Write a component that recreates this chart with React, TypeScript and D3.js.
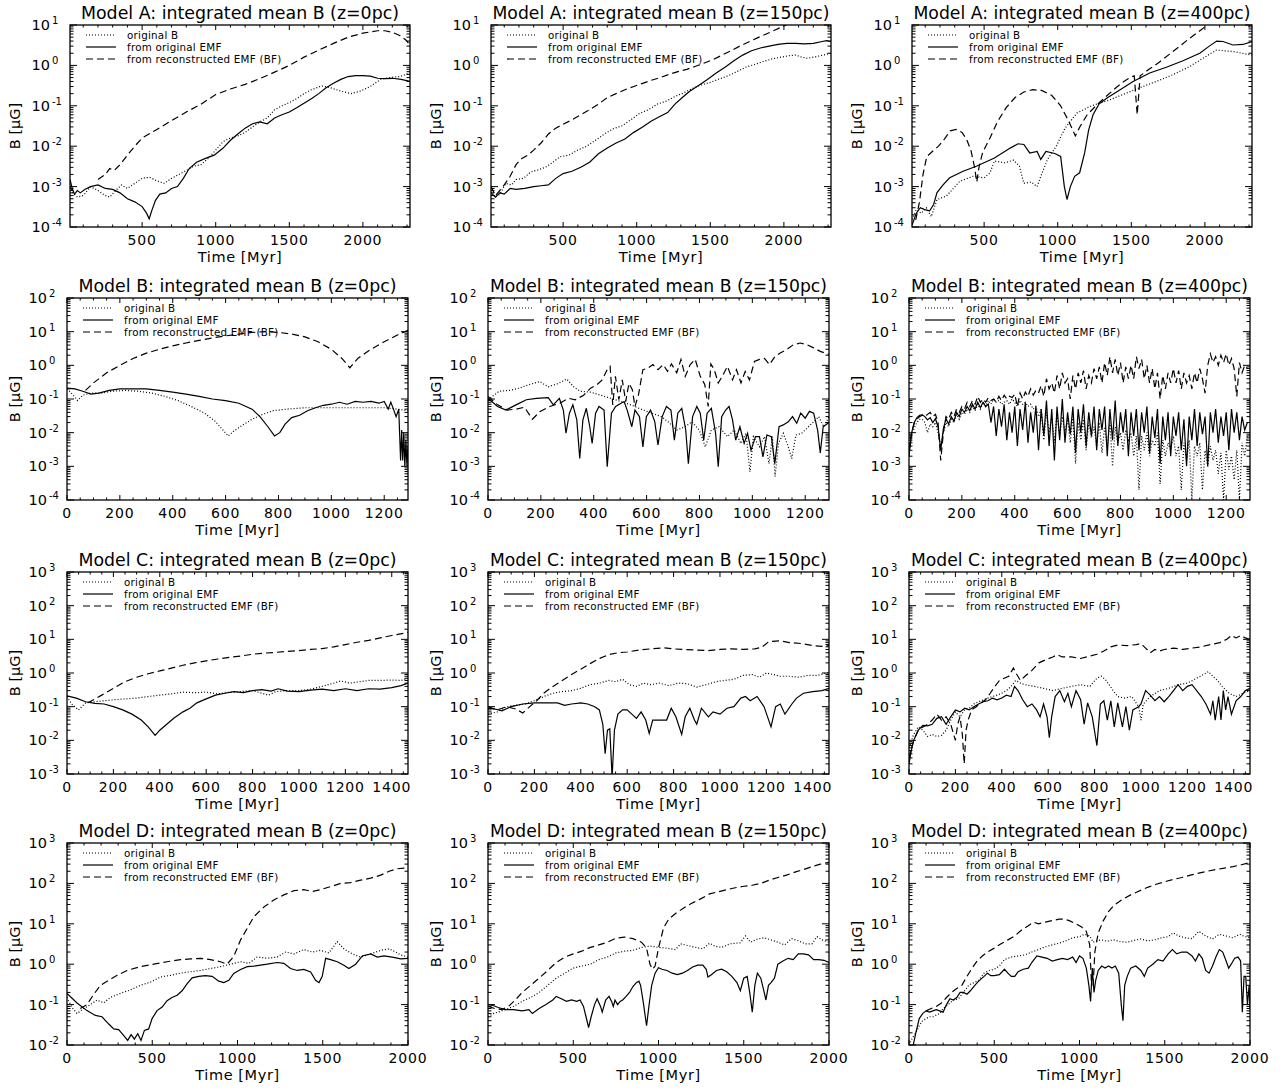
import * as d3 from 'd3';

type Pt = [number, number];

// ---------- Model A ----------
const a0Orig: Pt[] = [[10,1e-3],[30,7e-4],[60,5.5e-4],[100,6e-4],[150,1e-3],[200,8e-4],[250,6e-4],[280,5.5e-4],[320,8e-4],[360,1.1e-3],[400,9e-4],[450,1.2e-3],[500,1.6e-3],[550,1.7e-3],[600,1.4e-3],[650,1.2e-3],[700,1.6e-3],[750,2e-3],[800,2.5e-3],[850,3.2e-3],[900,3.5e-3],[950,5e-3],[1000,8e-3],[1050,1.3e-2],[1100,1.6e-2],[1150,1.8e-2],[1200,2.2e-2],[1250,3e-2],[1300,4e-2],[1350,5e-2],[1400,8e-2],[1450,1e-1],[1500,1.2e-1],[1550,1.5e-1],[1600,2e-1],[1650,2.5e-1],[1720,3.1e-1],[1780,2.8e-1],[1850,2.3e-1],[1920,2e-1],[1980,2.3e-1],[2050,3e-1],[2120,4.5e-1],[2180,5e-1],[2250,5.3e-1],[2320,6.5e-1]];
const a0Emf: Pt[] = [[10,1.5e-3],[25,9e-4],[40,6.5e-4],[60,8e-4],[80,7e-4],[110,8.5e-4],[150,1e-3],[200,1.1e-3],[250,9e-4],[300,8.5e-4],[350,7e-4],[400,5e-4],[450,4.2e-4],[500,3.2e-4],[530,2.2e-4],[548,1.6e-4],[565,2.5e-4],[590,4.5e-4],[620,6.5e-4],[660,7e-4],[700,9e-4],[740,1e-3],[780,1.6e-3],[820,2.8e-3],[870,4e-3],[930,5e-3],[990,6e-3],[1050,9e-3],[1100,1.4e-2],[1150,2e-2],[1200,2.8e-2],[1250,3.6e-2],[1300,4e-2],[1350,3.6e-2],[1400,5e-2],[1450,6e-2],[1500,7e-2],[1550,9e-2],[1600,1.15e-1],[1650,1.5e-1],[1700,2e-1],[1750,2.8e-1],[1800,3.6e-1],[1850,4.5e-1],[1900,5.3e-1],[1950,5.6e-1],[2000,5.6e-1],[2050,5.4e-1],[2100,4.8e-1],[2150,4.7e-1],[2200,4.8e-1],[2260,4.5e-1],[2320,4e-1]];
const a0Rec: Pt[] = [[200,1.5e-3],[250,2e-3],[280,2.8e-3],[310,2.5e-3],[350,3.5e-3],[400,6e-3],[450,1e-2],[500,1.6e-2],[600,2.6e-2],[700,4.3e-2],[800,7e-2],[900,1.1e-1],[1000,1.9e-1],[1100,2.6e-1],[1200,3.4e-1],[1300,4.7e-1],[1400,6.8e-1],[1500,1.0],[1600,1.6],[1700,2.4],[1800,3.5],[1900,5],[2000,6.3],[2100,7.2],[2150,7.2],[2200,6.6],[2250,5.5],[2290,4.3],[2320,3.2]];

const a1Orig: Pt[] = [[10,1e-3],[40,5.5e-4],[70,6.5e-4],[110,1.2e-3],[150,1.1e-3],[180,1.5e-3],[230,1.6e-3],[280,2.3e-3],[330,2.6e-3],[380,3e-3],[430,4e-3],[480,5.5e-3],[540,6e-3],[600,8e-3],[660,1e-2],[720,1.4e-2],[780,2e-2],[840,2.7e-2],[900,3.2e-2],[960,4.5e-2],[1020,6.5e-2],[1080,8e-2],[1140,1.1e-1],[1200,1.3e-1],[1260,1.7e-1],[1320,2.1e-1],[1380,2.7e-1],[1440,3.3e-1],[1500,3.8e-1],[1560,4.6e-1],[1620,5.5e-1],[1680,7e-1],[1740,9e-1],[1800,1.05],[1860,1.25],[1920,1.45],[1980,1.6],[2040,1.75],[2080,1.8],[2120,1.6],[2160,1.5],[2220,1.65],[2280,1.85],[2320,2.0]];
const a1Emf: Pt[] = [[10,7e-4],[40,5.5e-4],[70,7e-4],[100,6.5e-4],[140,9e-4],[180,8.5e-4],[240,9e-4],[300,1e-3],[350,1.05e-3],[400,1.1e-3],[450,1.6e-3],[500,2.1e-3],[560,2.4e-3],[620,3e-3],[680,4e-3],[740,6.5e-3],[800,9e-3],[860,1.2e-2],[920,1.5e-2],[980,2.2e-2],[1040,3e-2],[1100,4.2e-2],[1160,5.5e-2],[1210,6.8e-2],[1260,1.1e-1],[1310,1.6e-1],[1360,2.3e-1],[1420,3.2e-1],[1480,4.5e-1],[1540,6.5e-1],[1600,9e-1],[1660,1.3],[1720,1.8],[1780,2.3],[1840,2.7],[1900,3.0],[1960,3.3],[2020,3.5],[2080,3.5],[2140,3.4],[2200,3.5],[2260,3.9],[2290,4.1],[2320,3.9]];
const a1Rec: Pt[] = [[10,1e-3],[40,6e-4],[70,8e-4],[100,1.1e-3],[140,1.8e-3],[180,3.5e-3],[220,5e-3],[260,6e-3],[300,8e-3],[350,1.2e-2],[400,2e-2],[450,2.8e-2],[500,3.5e-2],[560,4.5e-2],[620,6e-2],[680,8e-2],[740,1.1e-1],[800,1.6e-1],[860,2e-1],[920,2.5e-1],[980,3e-1],[1040,3.6e-1],[1100,4.3e-1],[1160,5e-1],[1220,6e-1],[1280,7e-1],[1340,8e-1],[1400,9.5e-1],[1460,1.15],[1520,1.4],[1580,1.8],[1640,2.3],[1700,3.0],[1760,3.8],[1820,4.8],[1880,6],[1940,7.5],[2000,9.5],[2060,12]];

const a2Orig: Pt[] = [[10,1.55e-4],[39,2.7e-4],[73,2.2e-4],[107,3e-4],[141,1.8e-4],[180,4.8e-4],[243,5.8e-4],[334,1.35e-3],[425,1.8e-3],[500,1.65e-3],[540,2.2e-3],[570,4.3e-3],[640,3.9e-3],[700,4.5e-3],[740,3.2e-3],[770,1.2e-3],[820,1.3e-3],[860,1e-3],[890,2e-3],[930,4.7e-3],[990,1e-2],[1050,2.8e-2],[1130,6.6e-2],[1230,1e-1],[1353,1.4e-1],[1444,1.9e-1],[1557,2.8e-1],[1670,4e-1],[1783,5.9e-1],[1897,9.4e-1],[1987,1.5],[2078,2.4],[2191,2.2],[2320,1.8]];
const a2Emf: Pt[] = [[10,1.1e-4],[39,2.2e-4],[67,3e-4],[96,2.7e-4],[130,2.5e-4],[157,3.6e-4],[180,7.1e-4],[221,1.1e-3],[266,1.65e-3],[357,2.4e-3],[447,3.2e-3],[570,5.1e-3],[680,9.1e-3],[730,1.15e-2],[770,1.1e-2],[810,6.8e-3],[860,7.4e-3],[885,4.7e-3],[920,7.4e-3],[980,6.6e-3],[1020,5.6e-3],[1045,1e-3],[1063,4.8e-4],[1086,1e-3],[1115,1.8e-3],[1149,2.2e-3],[1183,6.8e-3],[1210,2.5e-2],[1240,6e-2],[1280,1.1e-1],[1340,1.6e-1],[1400,2.2e-1],[1512,4e-1],[1625,6.5e-1],[1738,9e-1],[1851,1.3],[1965,2.0],[2030,3.0],[2080,4.0],[2123,3.9],[2191,3.2],[2259,3.3],[2320,3.9]];
const a2Rec: Pt[] = [[35,1.5e-4],[60,4e-4],[85,2e-3],[110,5.5e-3],[150,7.5e-3],[190,1e-2],[230,1.5e-2],[270,2.4e-2],[310,2.6e-2],[350,2.2e-2],[380,1.5e-2],[410,8e-3],[435,3e-3],[450,1.3e-3],[465,3e-3],[490,7e-3],[540,1.6e-2],[590,4e-2],[650,9e-2],[710,1.6e-1],[770,2.2e-1],[830,2.5e-1],[890,2.4e-1],[960,1.8e-1],[1020,1e-1],[1070,4.5e-2],[1120,1.8e-2],[1150,3e-2],[1200,6e-2],[1260,1e-1],[1320,1.6e-1],[1380,2.5e-1],[1440,3.8e-1],[1490,5e-1],[1520,5.5e-1],[1540,6e-2],[1560,5.5e-1],[1620,8e-1],[1690,1.2],[1760,1.9],[1830,3.0],[1890,4.5],[1950,6.5],[2000,9],[2040,12]];

// ---------- Model B ----------
const b0Orig: Pt[] = [[0,0.2],[20,0.14],[40,0.09],[60,0.13],[90,0.15],[130,0.15],[170,0.17],[220,0.18],[270,0.17],[320,0.15],[370,0.12],[420,0.09],[470,0.06],[520,0.038],[560,0.022],[590,0.012],[610,8e-3],[630,1.1e-2],[660,1.6e-2],[700,2.5e-2],[740,3.5e-2],[780,4.5e-2],[830,5e-2],[900,5.5e-2],[1000,5.5e-2],[1100,5.5e-2],[1200,5.5e-2],[1250,5e-2],[1290,4.5e-2]];
const b0Emf: Pt[] = [[0,0.21],[30,0.2],[60,0.17],[90,0.14],[120,0.15],[160,0.18],[200,0.2],[250,0.2],[300,0.2],[350,0.18],[400,0.16],[450,0.14],[500,0.12],[550,0.1],[600,0.09],[650,0.075],[700,0.05],[730,0.03],[760,0.015],[785,8e-3],[805,1e-2],[825,1.8e-2],[850,2.8e-2],[880,3.3e-2],[910,4.5e-2],[940,5.5e-2],[970,6.5e-2],[1000,7e-2],[1030,8e-2],[1060,7e-2],[1090,8.5e-2],[1120,8e-2],[1150,8.5e-2],[1180,7.5e-2],[1200,8.5e-2],[1215,5e-2],[1225,8e-2],[1235,5e-2],[1245,3e-2],[1255,5e-2],[1262,1.5e-3],[1266,1.2e-2],[1270,1.5e-3],[1274,1e-2],[1278,1e-3],[1282,6e-3],[1286,1e-3],[1290,4e-3]];
const b0Rec: Pt[] = [[70,0.18],[100,0.3],[150,0.6],[200,1.0],[250,1.6],[300,2.3],[350,3.0],[400,3.8],[450,4.6],[500,5.5],[550,6.5],[600,7.5],[650,8.5],[700,9.5],[750,10],[800,9.5],[850,8.5],[900,7],[950,5],[1000,3],[1040,1.6],[1070,0.85],[1100,1.6],[1150,3],[1200,5],[1250,8],[1290,11]];

const b1Orig: Pt[] = [[0,9.5e-2],[17,0.12],[42,0.17],[81,0.18],[119,0.21],[157,0.27],[196,0.33],[228,0.23],[266,0.29],[298,0.39],[324,0.23],[349,0.17],[388,0.16],[426,0.13],[464,0.105],[503,8.4e-2],[541,6.7e-2],[579,5e-2],[618,3.8e-2],[656,3e-2],[688,1.9e-2],[714,1.2e-2],[746,1.5e-2],[771,2.1e-2],[799,1.2e-2],[822,3.8e-3],[845,1.2e-2],[874,1.5e-2],[906,7.6e-3],[931,1.2e-2],[957,4.8e-3],[976,9.6e-3],[991,6.9e-4],[1004,7.6e-3],[1027,3.8e-3],[1046,7.6e-3],[1063,1.2e-3],[1076,7.6e-3],[1086,5e-4],[1099,4.8e-3],[1117,9.6e-3],[1136,3.8e-3],[1149,1.7e-3],[1165,8.5e-3],[1187,9.6e-3],[1212,1.5e-2],[1232,2.1e-2],[1251,3e-2],[1270,1.5e-2],[1290,3e-2]];
const b1Emf: Pt[] = [[0,0.105],[36,0.06],[68,0.047],[106,0.067],[145,0.095],[183,0.105],[228,0.11],[247,0.067],[270,0.105],[285,0.047],[295,9.6e-3],[308,3.8e-2],[321,6.7e-2],[336,2.4e-2],[347,1.7e-3],[359,2.4e-2],[372,5.3e-2],[385,1.5e-2],[394,4.8e-3],[407,3.8e-2],[420,6e-2],[439,4.7e-2],[451,9.8e-4],[467,3.8e-2],[483,6e-2],[503,7.5e-2],[515,8.4e-2],[528,4.3e-2],[544,1.5e-2],[556,4.7e-2],[573,3e-2],[586,3.8e-3],[599,3e-2],[615,4.7e-2],[631,2.1e-2],[643,4.3e-3],[659,3e-2],[675,6e-2],[692,4.7e-2],[705,6e-3],[718,3.8e-2],[733,5.3e-2],[748,1.2e-2],[758,1.2e-3],[774,3e-2],[790,6e-2],[803,3.8e-2],[816,6e-3],[829,3.8e-2],[845,5.3e-2],[861,9.6e-3],[871,9.8e-4],[884,3e-2],[899,4.7e-2],[912,6e-2],[925,2.4e-2],[937,6e-3],[953,1.5e-2],[969,4.8e-3],[982,9.6e-3],[995,3e-3],[1012,7.6e-3],[1027,7.6e-3],[1040,1.9e-3],[1055,8.5e-3],[1072,7.6e-3],[1085,1.2e-3],[1101,1.5e-2],[1117,1.7e-2],[1136,2.1e-2],[1152,3e-2],[1168,1.9e-2],[1183,3.8e-2],[1200,2.7e-2],[1216,4.3e-2],[1232,3.8e-2],[1247,1.2e-2],[1257,2.5e-3],[1268,1.5e-2],[1290,2e-2]];
const b1Rec: Pt[] = [[0,0.12],[36,0.067],[74,0.047],[106,0.05],[138,0.057],[168,0.025],[196,0.042],[234,0.06],[272,0.075],[304,0.105],[330,0.095],[362,0.13],[388,0.21],[413,0.27],[432,0.37],[451,0.74],[462,0.93],[472,6.7e-2],[482,0.47],[495,9.5e-2],[508,0.37],[521,8.4e-2],[533,0.29],[546,0.19],[556,6e-2],[569,0.13],[586,0.74],[605,0.83],[624,1.05],[643,0.74],[663,1.05],[679,0.66],[694,1.1],[714,0.6],[730,1.5],[746,0.47],[765,1.05],[784,1.5],[803,0.47],[820,0.27],[833,6e-2],[843,1.1],[856,0.74],[871,0.3],[886,0.47],[906,0.93],[925,0.37],[940,0.74],[957,0.3],[973,0.66],[989,0.37],[1008,1.3],[1027,1.5],[1046,1.6],[1065,1.05],[1085,1.8],[1104,2.3],[1129,2.9],[1155,4.1],[1181,4.6],[1206,4.1],[1232,3.3],[1257,2.6],[1290,2.1]];

// Model B, z=400pc: sampled every 10 Myr
const b2Times = d3.range(0, 1281, 10);
const b2OrigVals = [
  3e-3, 8e-3, 1.4e-2, 2e-2, 2.5e-2, 2.5e-2, 2e-2, 1e-2, 1.8e-2, 1.5e-2,
  2e-2, 1e-2, 4e-3, 1e-2, 2e-2, 1.5e-2, 2.5e-2, 2e-2, 3.5e-2, 2.5e-2,
  4e-2, 3.5e-2, 5e-2, 4e-2, 6e-2, 4.5e-2, 7e-2, 5e-2, 8e-2, 6e-2,
  9e-2, 7e-2, 1e-1, 8e-2, 9e-2, 7e-2, 8e-2, 9e-2, 7e-2, 1e-1,
  8e-2, 6e-2, 9e-2, 7e-2, 8e-2, 6e-2, 7e-2, 5e-2, 6e-2, 3e-2,
  5e-2, 6e-3, 4e-2, 1e-2, 3e-2, 5e-3, 4e-2, 8e-3, 3e-2, 1e-2,
  2.5e-2, 5e-3, 3e-2, 1.2e-3, 2e-2, 6e-3, 2.5e-2, 3e-3, 2e-2, 7e-3,
  1.5e-2, 4e-3, 2e-2, 2.5e-3, 1.5e-2, 4e-3, 2e-2, 1e-3, 1.5e-2, 5e-3,
  1e-2, 3e-3, 1.2e-2, 6e-3, 1e-2, 2e-3, 8e-3, 2e-4, 8e-3, 3e-3,
  1e-2, 2e-3, 6e-3, 4e-3, 1e-2, 3e-4, 6e-3, 2e-3, 5e-3, 3e-3,
  8e-3, 2e-3, 4e-3, 2e-4, 5e-3, 1.5e-3, 6e-3, 1e-4, 4e-3, 2e-3,
  5e-3, 2e-4, 3e-3, 1e-3, 4e-3, 1.5e-3, 3e-3, 6e-4, 2.5e-3, 1e-4,
  3e-3, 8e-4, 2e-3, 4e-4, 3e-3, 1e-4, 5e-3, 2e-3, 8e-3];
const b2EmfVals = [
  2e-3, 1e-2, 2e-2, 2.8e-2, 3.3e-2, 3.4e-2, 3e-2, 2.4e-2, 2.8e-2, 2e-2,
  2.6e-2, 1.5e-2, 3e-3, 1.3e-2, 2.6e-2, 1.8e-2, 3e-2, 2.2e-2, 4e-2, 3e-2,
  5e-2, 4e-2, 6e-2, 4.5e-2, 7e-2, 5e-2, 8e-2, 5.5e-2, 8e-2, 6e-2,
  7e-2, 2e-2, 6e-2, 8e-3, 5e-2, 1.5e-2, 7e-2, 6e-3, 4e-2, 1e-2,
  6e-2, 4e-3, 5e-2, 1.2e-2, 8e-2, 5e-3, 4e-2, 1e-2, 6e-2, 3e-3,
  5e-2, 8e-3, 9e-2, 4e-3, 5e-2, 1.5e-3, 6e-2, 6e-3, 1e-1, 5e-3,
  4e-2, 9e-3, 6e-2, 2.5e-3, 5e-2, 1e-2, 7e-2, 4e-3, 4e-2, 8e-3,
  6e-2, 3e-3, 5e-2, 1.2e-2, 6e-2, 2e-3, 5e-2, 6e-3, 9e-2, 4e-3,
  4e-2, 1e-2, 5e-2, 2e-3, 4e-2, 8e-3, 5e-2, 3e-3, 4e-2, 1e-2,
  6e-2, 2.5e-3, 3e-2, 7e-3, 5e-2, 1.2e-3, 3e-2, 6e-3, 4e-2, 2e-3,
  3e-2, 8e-3, 4e-2, 3e-3, 2.5e-2, 1e-3, 3e-2, 6e-3, 5e-2, 4e-3,
  4e-2, 9e-3, 3e-2, 1e-3, 4e-2, 1e-2, 5e-2, 5e-3, 3e-2, 8e-3,
  4e-2, 3e-3, 5e-2, 1e-2, 4e-2, 6e-3, 3e-2, 1.2e-2, 2e-2];
const b2RecVals = [
  3e-3, 1e-2, 2e-2, 2.5e-2, 3e-2, 3.3e-2, 3e-2, 3.5e-2, 4e-2, 3e-2,
  3.5e-2, 2e-2, 1.5e-3, 1e-2, 3e-2, 2.5e-2, 4e-2, 3e-2, 5e-2, 4e-2,
  6e-2, 5e-2, 8e-2, 6e-2, 9e-2, 7e-2, 1.2e-1, 8e-2, 1e-1, 8e-2,
  1.1e-1, 9e-2, 1e-1, 8e-2, 1.2e-1, 9e-2, 1.3e-1, 1e-1, 1.2e-1, 1.1e-1,
  1.4e-1, 6e-2, 1.5e-1, 1e-1, 1.6e-1, 1.2e-1, 2e-1, 1.3e-1, 1.8e-1, 1.5e-1,
  2.5e-1, 1.2e-1, 4e-1, 2e-1, 3e-1, 1.5e-1, 5e-1, 2e-1, 6e-1, 3e-1,
  4e-1, 1e-1, 5e-1, 2e-1, 6e-1, 3e-1, 7e-1, 2e-1, 5e-1, 3e-1,
  8e-1, 4e-1, 9e-1, 3e-1, 1.2, 5e-1, 1.8, 6e-1, 1.5, 5e-1,
  1.2, 3e-1, 9e-1, 4e-1, 1.0, 4e-1, 1.8, 8e-1, 1.5, 4e-1,
  1.0, 3e-1, 8e-1, 2e-1, 6e-1, 1e-1, 5e-1, 2e-1, 6e-1, 3e-1,
  8e-1, 3e-1, 7e-1, 2e-1, 6e-1, 3e-1, 5e-1, 2e-1, 6e-1, 3e-1,
  8e-1, 4e-1, 1.5e-1, 1.0, 2.2, 1.2, 1.8, 1.0, 2.0, 1.2,
  2.2, 1.0, 1.6, 8e-1, 1.2e-1, 1.2, 6e-1, 1.0, 8e-1];
const b2Orig: Pt[] = b2Times.map((t, i) => [t, b2OrigVals[i]] as Pt);
const b2Emf: Pt[] = b2Times.map((t, i) => [t, b2EmfVals[i]] as Pt);
const b2Rec: Pt[] = b2Times.map((t, i) => [t, b2RecVals[i]] as Pt);

// ---------- Model C ----------
const c0Orig: Pt[] = [[0,0.2],[20,0.12],[50,0.08],[80,0.13],[120,0.14],[160,0.15],[200,0.16],[250,0.17],[300,0.18],[350,0.2],[400,0.22],[450,0.24],[500,0.27],[550,0.26],[600,0.27],[650,0.24],[700,0.27],[750,0.28],[800,0.3],[850,0.24],[870,0.22],[900,0.28],[950,0.3],[1000,0.3],[1050,0.33],[1100,0.4],[1150,0.5],[1180,0.58],[1220,0.5],[1260,0.55],[1300,0.6],[1350,0.6],[1400,0.62],[1440,0.6],[1470,0.7]];
const c0Emf: Pt[] = [[0,0.21],[40,0.18],[80,0.14],[120,0.125],[160,0.12],[200,0.1],[240,0.08],[280,0.06],[320,0.04],[350,0.025],[380,0.014],[400,0.02],[430,0.03],[460,0.045],[500,0.07],[530,0.09],[560,0.13],[600,0.17],[640,0.22],[680,0.25],[720,0.28],[760,0.26],[800,0.3],[840,0.32],[880,0.29],[910,0.34],[950,0.29],[1000,0.28],[1050,0.31],[1100,0.33],[1150,0.3],[1200,0.34],[1250,0.3],[1300,0.34],[1350,0.33],[1400,0.37],[1440,0.42],[1470,0.5]];
const c0Rec: Pt[] = [[90,0.13],[150,0.22],[200,0.35],[250,0.55],[300,0.75],[350,0.95],[400,1.15],[450,1.4],[500,1.7],[550,2.0],[600,2.3],[650,2.6],[700,2.9],[750,3.2],[800,3.6],[850,3.9],[900,4.1],[950,4.4],[1000,4.6],[1050,5.0],[1100,5.3],[1150,6.0],[1200,7.0],[1250,8.2],[1300,9.3],[1350,11],[1400,13],[1470,16]];

const c1Orig: Pt[] = [[0,0.06],[40,0.07],[80,0.1],[120,0.11],[160,0.12],[200,0.15],[240,0.2],[280,0.25],[320,0.28],[360,0.3],[400,0.35],[440,0.45],[480,0.5],[520,0.6],[550,0.55],[580,0.65],[610,0.45],[640,0.4],[670,0.5],[700,0.45],[740,0.5],[780,0.42],[820,0.5],[860,0.48],[900,0.38],[940,0.45],[980,0.55],[1020,0.6],[1060,0.65],[1100,0.85],[1140,0.9],[1170,0.75],[1200,1.0],[1230,0.9],[1260,0.8],[1300,0.8],[1340,0.75],[1380,0.85],[1420,0.85],[1470,1.05]];
const c1Emf: Pt[] = [[0,0.09],[30,0.085],[60,0.075],[100,0.1],[150,0.12],[200,0.13],[250,0.13],[300,0.13],[330,0.11],[360,0.12],[400,0.13],[430,0.12],[460,0.1],[480,0.08],[495,0.03],[505,4e-3],[515,0.02],[525,0.022],[535,8e-4],[545,0.02],[560,0.06],[580,0.08],[600,0.08],[620,0.06],[640,0.045],[660,0.07],[680,0.04],[695,0.016],[710,0.04],[740,0.04],[770,0.04],[790,0.09],[810,0.05],[835,0.015],[850,0.05],[870,0.09],[890,0.04],[900,0.03],[920,0.09],[950,0.05],[970,0.07],[1000,0.06],[1030,0.09],[1060,0.1],[1090,0.18],[1110,0.2],[1130,0.15],[1160,0.2],[1190,0.1],[1220,0.025],[1240,0.1],[1260,0.12],[1280,0.06],[1310,0.12],[1330,0.18],[1360,0.25],[1400,0.28],[1440,0.3],[1470,0.35]];
const c1Rec: Pt[] = [[0,0.1],[40,0.08],[80,0.1],[120,0.085],[150,0.065],[180,0.1],[210,0.15],[240,0.25],[280,0.4],[320,0.6],[360,0.9],[400,1.3],[440,1.9],[480,2.7],[520,3.5],[560,4.0],[600,4.2],[650,4.8],[700,5.2],[760,5.6],[800,5.2],[850,5.0],[900,4.8],[950,4.6],[1000,5.0],[1050,5.2],[1100,5.0],[1150,5.2],[1180,5.8],[1210,8.5],[1260,9],[1300,8],[1350,7.5],[1400,6.5],[1440,6.2],[1470,6.5]];

const c2Orig: Pt[] = [[0,6e-3],[20,1.5e-2],[40,2.5e-2],[60,2e-2],[80,1.3e-2],[100,1.5e-2],[120,1.3e-2],[140,1.4e-2],[160,2e-2],[180,4e-2],[200,7e-2],[220,5e-2],[240,8e-2],[260,9e-2],[280,1.2e-1],[300,1.4e-1],[320,1.6e-1],[340,1.8e-1],[360,2e-1],[380,2.2e-1],[400,2.5e-1],[420,3e-1],[440,4e-1],[460,6e-1],[480,5e-1],[500,4.5e-1],[540,4e-1],[580,3.5e-1],[620,3e-1],[660,3.5e-1],[700,4e-1],[740,4.5e-1],[780,4e-1],[810,7e-1],[830,8e-1],[850,6e-1],[880,3e-1],[900,2e-1],[930,1.8e-1],[960,2e-1],[990,1e-1],[1000,4e-2],[1010,1.2e-1],[1040,2e-1],[1080,3e-1],[1120,3.5e-1],[1160,4.5e-1],[1200,5e-1],[1240,7e-1],[1270,9e-1],[1290,1.1],[1310,8e-1],[1330,6e-1],[1350,4e-1],[1380,2.5e-1],[1410,2e-1],[1440,2.5e-1],[1470,3e-1]];
const c2Emf: Pt[] = [[0,2e-3],[10,5e-3],[20,1e-2],[40,2e-2],[60,2.8e-2],[80,2.7e-2],[100,3e-2],[120,4.5e-2],[140,5e-2],[160,3e-2],[180,5e-2],[200,8e-2],[220,7e-2],[240,9e-2],[260,8e-2],[280,1e-1],[300,1.2e-1],[320,1.4e-1],[340,1.5e-1],[360,1.8e-1],[380,1.6e-1],[400,1.8e-1],[420,2.2e-1],[440,2e-1],[455,4e-1],[470,3e-1],[490,1.6e-1],[510,1e-1],[530,1.2e-1],[550,8e-2],[565,5e-2],[580,1.2e-1],[595,5e-2],[605,1.2e-2],[615,5e-2],[630,2e-1],[650,3e-1],[670,1.4e-1],[685,2.5e-1],[700,1e-1],[720,3e-1],[740,1.6e-1],[755,3e-2],[770,1.3e-1],[790,5e-2],[810,7e-3],[825,1.2e-1],[840,1.5e-1],[855,4e-2],[870,1.5e-1],[885,2.5e-2],[900,1.3e-1],[920,2.5e-2],[935,1e-1],[950,2e-2],[965,8e-2],[990,1e-1],[1000,1.2e-1],[1020,3e-1],[1040,2.2e-1],[1060,1.5e-1],[1080,2e-1],[1100,1.4e-1],[1120,2e-1],[1140,3e-1],[1160,4.5e-1],[1180,3e-1],[1200,4e-1],[1220,4.5e-1],[1240,3e-1],[1260,2e-1],[1280,1.2e-1],[1300,6e-2],[1310,1.5e-1],[1320,4e-2],[1335,2e-1],[1345,4e-2],[1355,3e-1],[1365,8e-2],[1375,2e-1],[1390,6e-2],[1410,1.5e-1],[1430,2e-1],[1450,3e-1],[1470,3.5e-1]];
const c2Rec: Pt[] = [[0,3e-3],[20,1e-2],[40,2e-2],[60,2.5e-2],[80,3e-2],[100,4e-2],[120,6e-2],[140,4e-2],[160,5e-2],[180,3e-2],[200,1e-2],[210,3e-2],[220,5e-2],[230,1.5e-2],[238,2e-3],[246,2e-2],[255,4e-2],[270,8e-2],[290,1e-1],[310,1.3e-1],[330,1.6e-1],[350,2.5e-1],[370,4e-1],[390,6e-1],[410,7e-1],[430,8e-1],[450,1.4],[465,9e-1],[480,6e-1],[500,8e-1],[530,1.2],[560,2.0],[590,2.5],[620,3.0],[640,3.5],[660,3.0],[700,3.0],[740,2.7],[780,3.2],[810,3.6],[840,4.5],[870,6],[900,6.8],[940,6.5],[980,7],[1000,7.5],[1020,5.5],[1040,4],[1060,5],[1080,4.5],[1100,5],[1140,5.5],[1180,5],[1220,5.5],[1260,6],[1300,7],[1340,8],[1370,10],[1390,13],[1410,11],[1430,13],[1450,11],[1470,10]];

// ---------- Model D ----------
const d0Orig: Pt[] = [[0,0.15],[29,0.085],[59,0.06],[98,0.08],[137,0.1],[176,0.13],[215,0.11],[254,0.15],[313,0.19],[372,0.23],[431,0.3],[489,0.36],[548,0.48],[607,0.53],[665,0.6],[724,0.65],[783,0.7],[841,0.78],[900,0.87],[959,1.0],[1018,1.15],[1067,1.05],[1115,1.5],[1174,1.4],[1233,1.5],[1282,2.0],[1331,1.8],[1389,2.3],[1438,2.0],[1487,2.2],[1536,1.9],[1585,3.6],[1624,2.4],[1673,1.8],[1722,1.5],[1781,1.8],[1840,2.2],[1889,2.4],[1928,2.0],[1957,1.7],[2000,1.5]];
const d0Emf: Pt[] = [[0,0.19],[59,0.11],[117,0.071],[166,0.054],[205,0.05],[245,0.033],[274,0.025],[303,0.024],[333,0.017],[356,0.013],[376,0.018],[395,0.014],[415,0.019],[434,0.013],[454,0.023],[479,0.025],[499,0.045],[528,0.071],[558,0.087],[587,0.125],[616,0.15],[646,0.17],[675,0.22],[705,0.33],[734,0.46],[773,0.5],[812,0.52],[851,0.5],[890,0.38],[920,0.35],[949,0.4],[978,0.59],[1018,0.74],[1057,0.87],[1096,0.9],[1135,0.95],[1174,1.0],[1233,1.1],[1272,1.05],[1311,0.78],[1350,0.7],[1389,0.74],[1429,0.64],[1458,0.4],[1478,0.35],[1497,0.5],[1517,1.4],[1546,1.3],[1585,1.15],[1624,0.94],[1653,0.78],[1693,1.0],[1732,1.6],[1781,1.8],[1820,1.5],[1859,1.6],[1908,1.5],[1957,1.35],[2000,1.4]];
const d0Rec: Pt[] = [[78,0.08],[117,0.1],[157,0.18],[196,0.3],[245,0.4],[294,0.53],[352,0.7],[431,0.87],[509,1.0],[587,1.15],[665,1.3],[724,1.35],[783,1.4],[841,1.3],[900,1.15],[939,1.0],[978,1.55],[1018,4.0],[1057,7.7],[1096,15],[1155,26],[1213,39],[1272,52],[1331,66],[1389,70],[1438,63],[1487,70],[1546,83],[1605,100],[1663,105],[1722,120],[1781,135],[1840,160],[1889,200],[1937,230],[1977,240],[2000,220]];

const d1Orig: Pt[] = [[0,0.05],[30,0.06],[60,0.065],[100,0.075],[150,0.09],[200,0.12],[250,0.15],[300,0.2],[350,0.3],[400,0.45],[450,0.6],[500,0.8],[550,0.9],[600,1.0],[650,1.3],[700,1.5],[750,1.9],[800,2.1],[850,2.2],[900,2.6],[950,2.8],[980,2.7],[1000,2.6],[1050,2.5],[1100,2.3],[1130,3.2],[1170,2.9],[1220,2.6],[1260,2.4],[1300,3.3],[1330,2.8],[1370,2.6],[1420,3.2],[1480,3.4],[1510,5],[1540,3.5],[1580,4.2],[1620,4.5],[1660,4.0],[1700,3.5],[1740,3.0],[1780,4.3],[1820,3.8],[1860,3.2],[1900,3.2],[1930,4.8],[1960,4.0],[2000,3.5]];
const d1Emf: Pt[] = [[0,0.1],[30,0.095],[60,0.085],[100,0.075],[150,0.075],[200,0.07],[240,0.075],[260,0.06],[300,0.08],[340,0.1],[380,0.13],[400,0.16],[430,0.14],[460,0.12],[490,0.13],[520,0.12],[540,0.13],[560,0.09],[575,0.05],[590,0.027],[605,0.05],[625,0.1],[640,0.14],[660,0.09],[670,0.065],[690,0.13],[710,0.16],[725,0.12],[735,0.09],[745,0.13],[760,0.1],[775,0.12],[790,0.13],[810,0.16],[830,0.2],[850,0.28],[870,0.35],[885,0.38],[895,0.3],[910,0.12],[930,0.03],[945,0.1],[960,0.3],[980,0.6],[1000,0.82],[1020,0.75],[1050,0.7],[1080,0.6],[1110,0.55],[1140,0.6],[1170,0.7],[1200,0.85],[1230,0.95],[1260,0.95],[1280,0.75],[1290,0.48],[1310,0.55],[1340,0.7],[1370,0.75],[1400,0.65],[1430,0.5],[1460,0.35],[1480,0.22],[1500,0.45],[1520,0.5],[1535,0.2],[1550,0.065],[1565,0.3],[1580,0.6],[1600,0.45],[1620,0.2],[1630,0.13],[1645,0.3],[1660,0.35],[1680,0.45],[1700,1.0],[1730,1.2],[1760,1.4],[1790,1.3],[1820,1.8],[1850,1.8],[1880,1.7],[1910,1.3],[1940,1.3],[1970,1.25],[2000,1.1]];
const d1Rec: Pt[] = [[0,0.09],[40,0.08],[80,0.075],[120,0.09],[160,0.13],[200,0.2],[250,0.3],[300,0.45],[350,0.7],[400,1.1],[450,1.5],[500,1.8],[550,2.1],[600,2.6],[650,3.0],[700,3.5],[750,4.4],[800,4.7],[850,4.3],[900,3.5],[930,2.5],[950,1.0],[965,0.75],[980,0.9],[1000,2.5],[1030,8],[1060,13],[1100,18],[1150,25],[1200,33],[1250,42],[1300,55],[1350,62],[1400,70],[1450,78],[1500,85],[1550,90],[1600,100],[1650,120],[1700,140],[1750,160],[1800,190],[1850,220],[1900,260],[1950,300],[2000,330]];

const d2Orig: Pt[] = [[0,0.01],[20,0.015],[40,0.02],[60,0.03],[80,0.04],[100,0.045],[120,0.05],[140,0.05],[160,0.055],[180,0.06],[200,0.08],[230,0.1],[260,0.13],[290,0.14],[320,0.2],[350,0.3],[380,0.35],[410,0.4],[440,0.6],[470,0.7],[500,0.75],[530,0.9],[560,1.3],[600,1.5],[640,1.6],[680,1.7],[720,2.0],[760,2.3],[800,2.7],[840,3.0],[880,3.3],[920,3.8],[960,4.5],[1000,4.8],[1030,5.5],[1060,5.0],[1080,3.5],[1100,3.8],[1130,4.0],[1160,3.7],[1200,4.0],[1240,3.6],[1280,3.5],[1320,3.9],[1360,4.2],[1400,3.8],[1440,4.0],[1480,4.5],[1520,4.8],[1550,6.0],[1580,5.0],[1620,4.5],[1660,4.3],[1700,6.5],[1740,5.0],[1780,4.2],[1820,5.5],[1860,5.0],[1900,4.5],[1940,5.5],[1970,4.8],[2000,4.5]];
const d2Emf: Pt[] = [[20,0.008],[40,0.02],[60,0.045],[80,0.06],[100,0.07],[120,0.065],[140,0.07],[160,0.075],[180,0.07],[200,0.065],[220,0.1],[240,0.14],[260,0.13],[280,0.15],[300,0.2],[320,0.2],[340,0.18],[360,0.22],[380,0.28],[400,0.35],[420,0.42],[440,0.5],[460,0.6],[480,0.52],[500,0.52],[530,0.55],[560,0.75],[580,0.6],[600,0.5],[620,0.5],[640,0.65],[670,0.75],[700,0.8],[720,1.1],[750,1.6],[780,1.5],[810,1.4],[840,1.2],[870,1.3],[900,1.4],[930,1.3],[960,1.5],[980,1.1],[1000,1.6],[1020,1.4],[1040,0.8],[1055,0.3],[1065,0.12],[1075,0.8],[1085,0.2],[1095,0.4],[1110,0.7],[1130,0.9],[1150,0.8],[1170,0.9],[1190,0.8],[1210,0.9],[1230,0.6],[1245,0.1],[1255,0.04],[1265,0.3],[1280,0.5],[1300,0.8],[1330,0.9],[1360,0.7],[1380,0.5],[1400,0.8],[1430,1.0],[1460,1.3],[1490,1.2],[1520,1.8],[1545,2.3],[1570,1.8],[1600,2.0],[1630,2.0],[1660,1.6],[1680,1.2],[1700,1.8],[1720,1.4],[1740,0.7],[1760,0.6],[1780,0.9],[1800,1.5],[1820,2.3],[1840,2.0],[1860,1.2],[1875,0.8],[1890,1.0],[1910,1.4],[1930,1.5],[1945,1.2],[1955,0.065],[1965,0.5],[1975,0.5],[1985,0.1],[1995,0.3],[2000,0.08]];
const d2Rec: Pt[] = [[100,0.07],[130,0.08],[160,0.09],[190,0.11],[220,0.15],[250,0.2],[280,0.25],[310,0.3],[340,0.5],[370,0.8],[400,1.2],[430,1.6],[460,2.0],[500,2.5],[540,3.2],[580,4.0],[620,5.0],[660,7],[700,9],[730,11],[760,10],[800,11],[840,12],[880,13],[910,13],[940,12],[980,10],[1010,8.5],[1040,6.5],[1060,3],[1070,0.35],[1080,0.3],[1090,2],[1110,6],[1140,12],[1170,20],[1200,28],[1250,40],[1300,52],[1350,65],[1400,80],[1450,95],[1500,110],[1550,125],[1600,140],[1650,160],[1700,180],[1750,200],[1800,220],[1850,240],[1900,260],[1950,290],[2000,330]];

// ---------- axes per model ----------
const modelNames = ['A', 'B', 'C', 'D'];
const heightsPc = ['0', '150', '400'];
const xDomains: Record<string, [number, number]> = { A: [10, 2320], B: [0, 1290], C: [0, 1470], D: [0, 2000] };
const xMajorTicks: Record<string, number[]> = {
  A: [500, 1000, 1500, 2000],
  B: [0, 200, 400, 600, 800, 1000, 1200],
  C: [0, 200, 400, 600, 800, 1000, 1200, 1400],
  D: [0, 500, 1000, 1500, 2000],
};
const xMinorStep: Record<string, number> = { A: 100, B: 50, C: 50, D: 100 };
const yExpRange: Record<string, [number, number]> = { A: [-4, 1], B: [-4, 2], C: [-3, 3], D: [-2, 3] };
const legendLabels = ['original B', 'from original EMF', 'from reconstructed EMF (BF)'];

const seriesByPanel: Pt[][][] = [
  [[a0Orig, a0Emf, a0Rec], [a1Orig, a1Emf, a1Rec], [a2Orig, a2Emf, a2Rec]],
  [[b0Orig, b0Emf, b0Rec], [b1Orig, b1Emf, b1Rec], [b2Orig, b2Emf, b2Rec]],
  [[c0Orig, c0Emf, c0Rec], [c1Orig, c1Emf, c1Rec], [c2Orig, c2Emf, c2Rec]],
  [[d0Orig, d0Emf, d0Rec], [d1Orig, d1Emf, d1Rec], [d2Orig, d2Emf, d2Rec]],
];

const FONT = "'DejaVu Sans', sans-serif";
const dashes = ['1,2', '', '7,4'];

const colLeft = [67, 488, 909];
const rowTop = [25, 298, 572, 843];
const plotW = 341;
const plotH = 202;

function Panel({ row, col }: { row: number; col: number }) {
  const m = modelNames[row];
  const left = colLeft[col] + (row === 0 ? 3 : 0);
  const w = row === 0 ? 340 : plotW;
  const top = rowTop[row];
  const h = plotH;
  const [e0, e1] = yExpRange[m];
  const x = d3.scaleLinear().domain(xDomains[m]).range([left, left + w]);
  const y = d3.scaleLog().domain([10 ** e0, 10 ** e1]).range([top + h, top]);
  const line = d3.line<Pt>()
    .x(d => x(d[0]))
    .y(d => y(Math.max(d[1], 10 ** (e0 - 1))));
  const clipId = `clip-${row}-${col}`;
  const [x0, x1] = xDomains[m];

  const majors = d3.range(e0, e1 + 1);
  const minors: number[] = [];
  for (let e = e0; e < e1; e++) for (let k = 2; k <= 9; k++) minors.push(k * 10 ** e);
  const xMajors = xMajorTicks[m];
  const step = xMinorStep[m];
  const xMinors = d3.range(Math.ceil(x0 / step) * step, x1 + 0.001, step).filter(v => !xMajors.includes(v));
  const title = `Model ${m}: integrated mean B (z=${heightsPc[col]}pc)`;

  return (
    <g>
      <defs>
        <clipPath id={clipId}>
          <rect x={left} y={top} width={w} height={h} />
        </clipPath>
      </defs>
      <text x={left + w / 2} y={top - 6} textAnchor="middle" fontSize={17} fontFamily={FONT}
        textLength={col === 0 ? 318 : 337} lengthAdjust="spacingAndGlyphs">{title}</text>

      <g clipPath={`url(#${clipId})`} fill="none" stroke="#000" strokeWidth={1.2}>
        {seriesByPanel[row][col].map((s, i) => (
          <path key={i} d={line(s) || ''} strokeDasharray={dashes[i] || undefined} />
        ))}
      </g>

      <rect x={left} y={top} width={w} height={h} fill="none" stroke="#000" strokeWidth={1.3} />

      <g stroke="#000" strokeWidth={1}>
        {majors.map(e => {
          const yy = y(10 ** e);
          return (
            <g key={`M${e}`}>
              <line x1={left} x2={left + 7} y1={yy} y2={yy} />
              <line x1={left + w - 7} x2={left + w} y1={yy} y2={yy} />
            </g>
          );
        })}
        {minors.map(v => {
          const yy = y(v);
          return (
            <g key={`m${v}`}>
              <line x1={left} x2={left + 3.5} y1={yy} y2={yy} />
              <line x1={left + w - 3.5} x2={left + w} y1={yy} y2={yy} />
            </g>
          );
        })}
        {xMajors.map(v => {
          const xx = x(v);
          return (
            <g key={`X${v}`}>
              <line x1={xx} x2={xx} y1={top + h} y2={top + h - 5} />
              <line x1={xx} x2={xx} y1={top} y2={top + 5} />
            </g>
          );
        })}
        {xMinors.map(v => {
          const xx = x(v);
          return (
            <g key={`x${v}`}>
              <line x1={xx} x2={xx} y1={top + h} y2={top + h - 2.5} />
              <line x1={xx} x2={xx} y1={top} y2={top + 2.5} />
            </g>
          );
        })}
      </g>

      <g fontFamily={FONT} fill="#000">
        {majors.map(e => {
          const yy = y(10 ** e);
          return (
            <g key={`L${e}`}>
              <text x={left - 20} y={yy + 5} textAnchor="end" fontSize={14.5}>10</text>
              <text x={left - 18} y={yy - 1} fontSize={10}>{e < 0 ? `-${-e}` : `${e}`}</text>
            </g>
          );
        })}
        {xMajors.map(v => (
          <text key={`XL${v}`} x={x(v)} y={top + h + 18} textAnchor="middle" fontSize={14} letterSpacing={0.8}>{v}</text>
        ))}
        <text x={left + w / 2} y={top + h + 35} textAnchor="middle" fontSize={14.5} letterSpacing={0.6}>Time [Myr]</text>
        <text transform={`translate(${colLeft[col] - 47},${top + h / 2}) rotate(-90)`} textAnchor="middle" fontSize={14.5}>B [μG]</text>
      </g>

      <g fontFamily={FONT} fontSize={10.3}>
        {legendLabels.map((lab, i) => {
          const ly = top + 10 + i * 12;
          return (
            <g key={lab}>
              <line x1={left + 16} x2={left + 46} y1={ly} y2={ly} stroke="#000" strokeWidth={1.2}
                strokeDasharray={dashes[i] || undefined} />
              <text x={left + 57} y={ly + 3.5} letterSpacing={0.25}>{lab}</text>
            </g>
          );
        })}
      </g>
    </g>
  );
}

export default function App() {
  return (
    <svg width={1283} height={1091} style={{ position: 'absolute', left: 0, top: 0, background: '#fff' }}>
      <rect x={0} y={0} width={1283} height={1091} fill="#fff" />
      {modelNames.map((_, r) => heightsPc.map((__, c) => <Panel key={`${r}-${c}`} row={r} col={c} />))}
    </svg>
  );
}
